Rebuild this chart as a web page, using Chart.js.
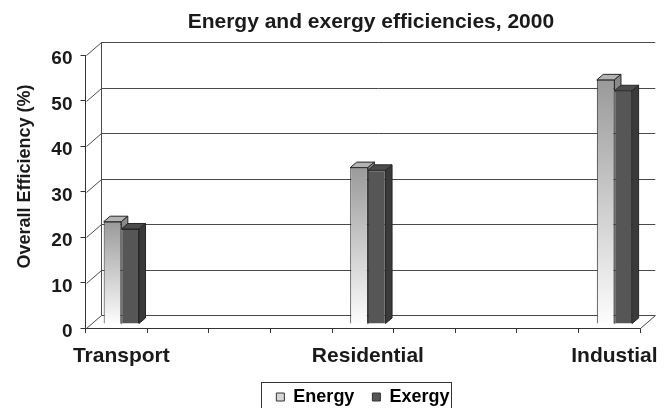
<!DOCTYPE html>
<html>
<head>
<meta charset="utf-8">
<title>Energy and exergy efficiencies, 2000</title>
<script src="https://cdn.jsdelivr.net/npm/chart.js@4.4.1/dist/chart.umd.min.js"></script>
<style>
  html, body { margin: 0; padding: 0; background: #ffffff; }
  #chart { display: block; }
</style>
</head>
<body>
<canvas id="chart" width="665" height="408"></canvas>
<script>
// Sectors along the category axis (blank slots keep the wide spacing between sectors)
const categories = ['Transport', '', '', '', 'Residential', '', '', '', 'Industial'];
// Overall efficiencies in percent
const energyValues = [22.5, null, null, null, 34.4, null, null, null, 53.7];
const exergyValues = [20.9, null, null, null, 33.8, null, null, null, 51.3];
const seriesNames = ['Energy', 'Exergy'];
// Value axis
const yMin = 0;
const yMax = 60;
const yStep = 10;
const chartTitle = 'Energy and exergy efficiencies, 2000';
const yAxisTitle = 'Overall Efficiency (%)';

const FONT = '"Liberation Sans", Arial, Helvetica, sans-serif';
const TEXT = '#1a1a1a';
const EDGE = '#262626';

// Perspective offsets (px): front plane -> back wall, front plane -> bar faces, bar depth
const WALL = { dx: 15, dy: 13 };
const BAR_SHIFT = { dx: 5, dy: 4 };
const BAR_DEPTH = { dx: 6.5, dy: 5.5 };

function energyFill(c) {
  const chart = c.chart;
  const y = chart.scales && chart.scales.y;
  if (c.raw == null || !y || !chart.chartArea) return '#cfcfcf';
  const top = y.getPixelForValue(c.raw);
  const base = y.getPixelForValue(0);
  const g = chart.ctx.createLinearGradient(0, top, 0, base);
  g.addColorStop(0, '#9a9a9a');
  g.addColorStop(1, '#fdfdfd');
  return g;
}

function barProps(el) {
  return el.getProps(['x', 'y', 'base', 'width'], true);
}

function drawFaces(ctx, el, topColor, sideColor) {
  const { x, y, base, width } = barProps(el);
  const l = x - width / 2, r = x + width / 2;
  const dx = BAR_DEPTH.dx, dy = BAR_DEPTH.dy;
  ctx.strokeStyle = EDGE;
  ctx.lineWidth = 1;
  ctx.lineJoin = 'round';
  // top face
  ctx.beginPath();
  ctx.moveTo(l, y); ctx.lineTo(l + dx, y - dy); ctx.lineTo(r + dx, y - dy); ctx.lineTo(r, y);
  ctx.closePath();
  ctx.fillStyle = topColor; ctx.fill(); ctx.stroke();
  // right side face
  ctx.beginPath();
  ctx.moveTo(r, y); ctx.lineTo(r + dx, y - dy); ctx.lineTo(r + dx, base - dy); ctx.lineTo(r, base);
  ctx.closePath();
  ctx.fillStyle = sideColor; ctx.fill(); ctx.stroke();
}

const depthPlugin = {
  id: 'depth',
  afterLayout(chart) {
    // the heading is centred over the plot including its depth
    const t = chart.titleBlock;
    if (t) { t.left += 8; t.right += 8; }
  },
  beforeDatasetsDraw(chart) {
    const { ctx, chartArea: a, scales: { y } } = chart;
    const al = v => Math.round(v) + 0.5;
    ctx.save();
    ctx.strokeStyle = '#4a4a4a';
    ctx.lineWidth = 1;
    ctx.beginPath();
    y.ticks.forEach(t => {
      const py = al(y.getPixelForValue(t.value));
      ctx.moveTo(al(a.left), py);
      ctx.lineTo(al(a.left) + WALL.dx, py - WALL.dy);
      ctx.lineTo(a.right + WALL.dx, py - WALL.dy);
    });
    const y0 = al(y.getPixelForValue(yMin));
    const yTop = al(y.getPixelForValue(yMax));
    // back wall left edge
    ctx.moveTo(al(a.left) + WALL.dx, y0 - WALL.dy);
    ctx.lineTo(al(a.left) + WALL.dx, yTop - WALL.dy);
    // floor right edge
    ctx.moveTo(al(a.right), y0);
    ctx.lineTo(al(a.right) + WALL.dx, y0 - WALL.dy);
    ctx.stroke();
    ctx.restore();

    // bars sit a little behind the front plane
    ctx.save();
    ctx.translate(BAR_SHIFT.dx, -BAR_SHIFT.dy);
  },
  afterDatasetsDraw(chart) {
    const { ctx } = chart;
    const enMeta = chart.getDatasetMeta(0);
    const exMeta = chart.getDatasetMeta(1);

    // Energy faces, hidden where the Exergy front face stands in front of them
    ctx.save();
    ctx.beginPath();
    ctx.rect(-100, -100, chart.width + 200, chart.height + 200);
    exMeta.data.forEach((el, i) => {
      if (exergyValues[i] == null) return;
      const p = barProps(el);
      ctx.rect(p.x - p.width / 2, p.y, p.width, p.base - p.y);
    });
    ctx.clip('evenodd');
    enMeta.data.forEach((el, i) => {
      if (energyValues[i] == null) return;
      drawFaces(ctx, el, '#b3b3b3', '#8a8a8a');
    });
    ctx.restore();

    exMeta.data.forEach((el, i) => {
      if (exergyValues[i] == null) return;
      drawFaces(ctx, el, '#4c4c4c', '#3a3a3a');
    });

    ctx.restore(); // undo bar shift
  },
  afterDraw(chart) {
    const { ctx } = chart;
    // value axis title
    ctx.save();
    ctx.translate(25, 176.5);
    ctx.rotate(-Math.PI / 2);
    ctx.font = 'bold 18px ' + FONT;
    ctx.fillStyle = TEXT;
    ctx.textAlign = 'center';
    ctx.textBaseline = 'middle';
    ctx.fillText(yAxisTitle, 0, 0);
    ctx.restore();

    // legend frame
    const hb = chart.legend && chart.legend.legendHitBoxes;
    if (hb && hb.length) {
      const first = hb[0], last = hb[hb.length - 1];
      const left = Math.round(first.left - 15) + 0.5;
      const right = Math.round(last.left + last.width + 2) + 0.5;
      const top = Math.round(first.top - 6) + 0.5;
      ctx.save();
      ctx.strokeStyle = '#333333';
      ctx.lineWidth = 1;
      ctx.strokeRect(left, top, right - left, chart.height + 10 - top);
      ctx.restore();
    }
  }
};

new Chart(document.getElementById('chart'), {
  type: 'bar',
  data: {
    labels: categories,
    datasets: [
      {
        label: seriesNames[0],
        data: energyValues,
        backgroundColor: energyFill,
        borderColor: EDGE,
        borderWidth: 1,
        categoryPercentage: 0.573,
        barPercentage: 1
      },
      {
        label: seriesNames[1],
        data: exergyValues,
        backgroundColor: '#565656',
        borderColor: EDGE,
        borderWidth: 1,
        categoryPercentage: 0.573,
        barPercentage: 1
      }
    ]
  },
  options: {
    responsive: false,
    devicePixelRatio: 1,
    animation: false,
    events: [],
    layout: { padding: { top: 0, right: 14, bottom: -8, left: 0 } },
    scales: {
      x: {
        grid: { offset: true, drawOnChartArea: false, drawTicks: true, tickLength: 5, color: '#333333', lineWidth: 1 },
        border: { display: true, color: '#333333', width: 1 },
        ticks: {
          autoSkip: false, maxRotation: 0, minRotation: 0,
          padding: 11, labelOffset: 5,
          color: TEXT,
          font: { family: FONT, size: 21, weight: 'bold' }
        },
        afterFit: s => { s.height = 42; }
      },
      y: {
        min: yMin,
        max: yMax,
        grid: { drawOnChartArea: false, drawTicks: true, tickLength: 5, color: '#333333', lineWidth: 1 },
        border: { display: true, color: '#333333', width: 1 },
        ticks: {
          stepSize: yStep,
          padding: 8, labelOffset: 4,
          color: TEXT,
          font: { family: FONT, size: 19, weight: 'bold' }
        },
        afterFit: s => { s.width = 85.5; }
      }
    },
    plugins: {
      title: {
        display: true,
        text: chartTitle,
        fullSize: false,
        color: TEXT,
        font: { family: FONT, size: 21, weight: 'bold' },
        padding: { top: 10, bottom: 20 }
      },
      legend: {
        position: 'bottom',
        fullSize: false,
        labels: {
          boxWidth: 8,
          boxHeight: 8,
          padding: 18,
          color: TEXT,
          font: { family: FONT, size: 18, weight: 'bold' },
          generateLabels: () => [
            { text: seriesNames[0], fillStyle: '#d6d6d6', strokeStyle: '#333333', lineWidth: 1, datasetIndex: 0, hidden: false },
            { text: seriesNames[1], fillStyle: '#565656', strokeStyle: '#333333', lineWidth: 1, datasetIndex: 1, hidden: false }
          ]
        }
      },
      tooltip: { enabled: false }
    }
  },
  plugins: [depthPlugin]
});
</script>
</body>
</html>
